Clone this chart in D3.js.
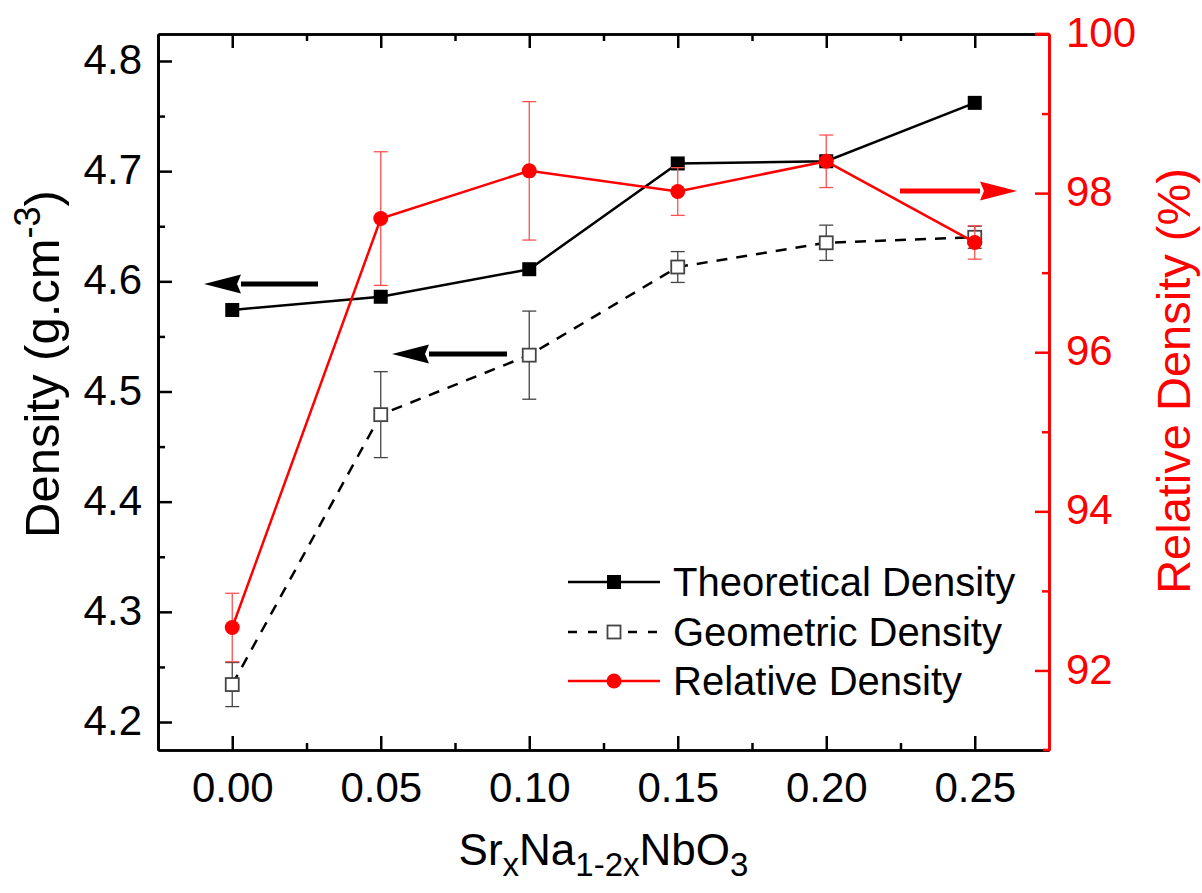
<!DOCTYPE html>
<html>
<head>
<meta charset="utf-8">
<script src="https://cdn.jsdelivr.net/npm/d3@7"></script>
<style>
  body { margin: 0; background: #fff; }
  text { font-family: "Liberation Sans", Arial, sans-serif; }
</style>
</head>
<body>
<svg id="chart" width="1202" height="893"></svg>
<script>
      // data
      var xVals      = [0.00, 0.05, 0.10, 0.15, 0.20, 0.25];
      var theoDens   = [4.574, 4.586, 4.611, 4.707, 4.709, 4.762];
      var geoDens    = [4.234, 4.479, 4.533, 4.613, 4.635, 4.640];
      var geoErr     = [0.020, 0.039, 0.040, 0.014, 0.016, 0.010];
      var relDens    = [92.54, 97.68, 98.28, 98.02, 98.40, 97.38];
      var relErr     = [0.43, 0.84, 0.87, 0.30, 0.33, 0.21];
      var xTicks     = [0.00, 0.05, 0.10, 0.15, 0.20, 0.25];
      var xMinor     = [0.025, 0.075, 0.125, 0.175, 0.225];
      var yTicks     = [4.2, 4.3, 4.4, 4.5, 4.6, 4.7, 4.8];
      var yMinor     = [4.25, 4.35, 4.45, 4.55, 4.65, 4.75];
      var y2Ticks    = [92, 94, 96, 98, 100];
      var y2Minor    = [93, 95, 97, 99];
      var legendText = ["Theoretical Density", "Geometric Density", "Relative Density"];

      var bar = d3.select("#chart");
      var margin = {top: 34, bottom: 143, left: 158, right: 153};
      var svgWidth = 1202, svgHeight = 893;
      var x0 = margin.left, x1 = svgWidth - margin.right;
      var y0 = margin.top,  y1 = svgHeight - margin.bottom;
      var red = "#ff0000";

      var xScale  = d3.scaleLinear().domain([-0.025, 0.275]).range([x0, x1]);
      var yScale  = d3.scaleLinear().domain([4.1746, 4.8245]).range([y1, y0]);
      var y2Scale = d3.scaleLinear().domain([91, 100]).range([y1, y0]);

      bar.append("rect").attr("width", svgWidth).attr("height", svgHeight).style("fill", "#fff");

      // axes (ticks point inward)
      var fontTick = "42px";
      var gB = bar.append("g").attr("transform", "translate(0," + y1 + ")")
                  .call(d3.axisBottom(xScale).tickValues(xTicks).tickFormat(d3.format(".2f"))
                          .tickSizeInner(-14).tickSizeOuter(0).tickPadding(22));
      gB.append("g").call(d3.axisBottom(xScale).tickValues(xMinor).tickSizeInner(-7).tickSizeOuter(0).tickFormat(""));
      var gT = bar.append("g").attr("transform", "translate(0," + y0 + ")")
                  .call(d3.axisTop(xScale).tickValues(xTicks).tickSizeInner(-14).tickSizeOuter(0).tickFormat(""));
      gT.append("g").call(d3.axisTop(xScale).tickValues(xMinor).tickSizeInner(-7).tickSizeOuter(0).tickFormat(""));

      var gL = bar.append("g").attr("transform", "translate(" + x0 + ",0)")
                  .call(d3.axisLeft(yScale).tickValues(yTicks).tickFormat(d3.format(".1f"))
                          .tickSizeInner(-14).tickSizeOuter(0).tickPadding(16));
      gL.append("g").call(d3.axisLeft(yScale).tickValues(yMinor).tickSizeInner(-7).tickSizeOuter(0).tickFormat(""));

      var gR = bar.append("g").attr("transform", "translate(" + x1 + ",0)")
                  .call(d3.axisRight(y2Scale).tickValues(y2Ticks).tickFormat(d3.format("d"))
                          .tickSizeInner(-14).tickSizeOuter(0).tickPadding(17));
      gR.append("g").call(d3.axisRight(y2Scale).tickValues(y2Minor).tickSizeInner(-7).tickSizeOuter(0).tickFormat(""));

      [gB, gT, gL, gR].forEach(function(g) {
        g.selectAll("path.domain").style("stroke-width", "2.7");
        g.selectAll("line").style("stroke-width", "2.5");
        g.selectAll("text").style("font-size", fontTick).style("fill", "#000");
      });
      gL.selectAll("text").attr("dy", "0.30em");
      gR.selectAll("text").attr("dy", "0.30em");
      gR.selectAll("path.domain").style("stroke", red);
      gR.selectAll("line").style("stroke", red);
      gR.selectAll("text").style("fill", red);
      // red corner pieces like the original
      bar.append("line").attr("x1", x1 - 14).attr("y1", y0).attr("x2", x1).attr("y2", y0)
         .style("stroke", red).style("stroke-width", "2.7");
      bar.append("line").attr("x1", x1 - 6).attr("y1", y1).attr("x2", x1).attr("y2", y1)
         .style("stroke", red).style("stroke-width", "2.7");

      // axis titles
      var xt = bar.append("text").attr("x", (x0 + x1) / 2).attr("y", 865)
                  .style("font-size", "44px").style("text-anchor", "middle");
      xt.append("tspan").text("Sr");
      xt.append("tspan").attr("dy", 11).style("font-size", "33px").text("x");
      xt.append("tspan").attr("dy", -11).text("Na");
      xt.append("tspan").attr("dy", 11).style("font-size", "33px").text("1-2x");
      xt.append("tspan").attr("dy", -11).text("NbO");
      xt.append("tspan").attr("dy", 11).style("font-size", "33px").text("3");

      var yt = bar.append("text").attr("transform", "translate(59,364) rotate(-90)")
                  .style("font-size", "49px").style("text-anchor", "middle");
      yt.append("tspan").text("Density (g.cm");
      yt.append("tspan").attr("dy", -19).style("font-size", "36px").text("-3");
      yt.append("tspan").attr("dy", 19).text(")");

      bar.append("text").attr("transform", "translate(1190,381) rotate(-90)")
         .style("font-size", "47px").style("text-anchor", "middle").style("fill", red)
         .text("Relative Density (%)");

      var lineTheo = d3.line().x(function(d, i) { return xScale(xVals[i]); }).y(function(d) { return yScale(d); });
      var lineRel  = d3.line().x(function(d, i) { return xScale(xVals[i]); }).y(function(d) { return y2Scale(d); });

      bar.append("path").attr("d", lineTheo(theoDens))
         .style("fill", "none").style("stroke", "#000").style("stroke-width", "2.5");
      bar.append("path").attr("d", lineTheo(geoDens))
         .style("fill", "none").style("stroke", "#000").style("stroke-width", "2.5")
         .style("stroke-dasharray", "11,9");

      // geometric error bars
      geoDens.forEach(function(d, i) {
        var cx = xScale(xVals[i]), ya = yScale(d + geoErr[i]), yb = yScale(d - geoErr[i]);
        bar.append("line").attr("x1", cx).attr("y1", ya).attr("x2", cx).attr("y2", yb)
           .style("stroke", "#444").style("stroke-width", "1.3");
        bar.append("line").attr("x1", cx - 7).attr("y1", ya).attr("x2", cx + 7).attr("y2", ya)
           .style("stroke", "#444").style("stroke-width", "1.3");
        bar.append("line").attr("x1", cx - 7).attr("y1", yb).attr("x2", cx + 7).attr("y2", yb)
           .style("stroke", "#444").style("stroke-width", "1.3");
      });
      bar.selectAll(".geo").data(geoDens).enter().append("rect").attr("class", "geo")
         .attr("x", function(d, i) { return xScale(xVals[i]) - 6.5; })
         .attr("y", function(d) { return yScale(d) - 6.5; })
         .attr("width", 13).attr("height", 13)
         .style("fill", "#fff").style("stroke", "#444").style("stroke-width", "1.8");
      bar.selectAll(".theo").data(theoDens).enter().append("rect").attr("class", "theo")
         .attr("x", function(d, i) { return xScale(xVals[i]) - 7; })
         .attr("y", function(d) { return yScale(d) - 7; })
         .attr("width", 14).attr("height", 14).style("fill", "#000");

      // relative density (red)
      relDens.forEach(function(d, i) {
        var cx = xScale(xVals[i]), ya = y2Scale(d + relErr[i]), yb = y2Scale(d - relErr[i]);
        bar.append("line").attr("x1", cx).attr("y1", ya).attr("x2", cx).attr("y2", yb)
           .style("stroke", "#ff5050").style("stroke-width", "1.3");
        bar.append("line").attr("x1", cx - 7).attr("y1", ya).attr("x2", cx + 7).attr("y2", ya)
           .style("stroke", "#ff5050").style("stroke-width", "1.3");
        bar.append("line").attr("x1", cx - 7).attr("y1", yb).attr("x2", cx + 7).attr("y2", yb)
           .style("stroke", "#ff5050").style("stroke-width", "1.3");
      });
      bar.append("path").attr("d", lineRel(relDens))
         .style("fill", "none").style("stroke", red).style("stroke-width", "2.5");
      bar.selectAll(".rel").data(relDens).enter().append("circle").attr("class", "rel")
         .attr("cx", function(d, i) { return xScale(xVals[i]); })
         .attr("cy", function(d) { return y2Scale(d); })
         .attr("r", 7.5).style("fill", red);

      // arrows
      function arrow(xa, xb, y, color) {
        // xa = tail, xb = tip
        var dir = xb > xa ? 1 : -1;
        var hx = xb - dir * 37;
        bar.append("line").attr("x1", xa).attr("y1", y).attr("x2", hx).attr("y2", y)
           .style("stroke", color).style("stroke-width", "5");
        bar.append("path")
           .attr("d", "M" + xb + "," + y + "L" + hx + "," + (y - 9.5) + "L" + (hx + dir * 4) + "," + y + "L" + hx + "," + (y + 9.5) + "Z")
           .style("fill", color);
      }
      arrow(318, 204, 284, "#000");
      arrow(507, 392, 354, "#000");
      arrow(900, 1017, 191, red);

      // legend
      var legY = [582, 632, 681];
      var lx1 = 568, lx2 = 660, lm = 614;
      bar.append("line").attr("x1", lx1).attr("y1", legY[0]).attr("x2", lx2).attr("y2", legY[0])
         .style("stroke", "#000").style("stroke-width", "2.5");
      bar.append("rect").attr("x", lm - 7).attr("y", legY[0] - 7).attr("width", 14).attr("height", 14).style("fill", "#000");
      bar.append("line").attr("x1", lx1).attr("y1", legY[1]).attr("x2", lx2).attr("y2", legY[1])
         .style("stroke", "#000").style("stroke-width", "2.5").style("stroke-dasharray", "9,11");
      bar.append("rect").attr("x", lm - 6.5).attr("y", legY[1] - 6.5).attr("width", 13).attr("height", 13)
         .style("fill", "#fff").style("stroke", "#444").style("stroke-width", "1.8");
      bar.append("line").attr("x1", lx1).attr("y1", legY[2]).attr("x2", lx2).attr("y2", legY[2])
         .style("stroke", red).style("stroke-width", "2.5");
      bar.append("circle").attr("cx", lm).attr("cy", legY[2]).attr("r", 7.5).style("fill", red);
      legendText.forEach(function(t, i) {
        bar.append("text").attr("x", 673).attr("y", legY[i] + 14).text(t)
           .style("font-size", "40px").style("fill", "#000");
      });
</script>
</body>
</html>
